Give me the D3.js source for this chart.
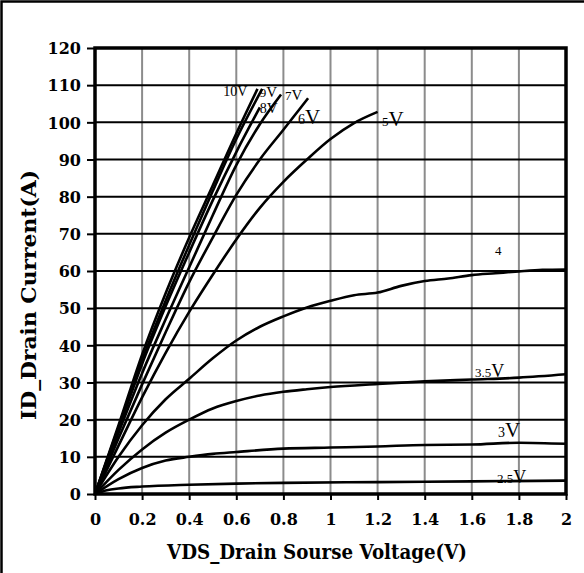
<!DOCTYPE html>
<html>
<head>
<meta charset="utf-8">
<script src="https://cdn.jsdelivr.net/npm/d3@7"></script>
<style>
  body { margin: 0; background: #fff; }
  svg { display: block; }
</style>
</head>
<body>
<svg width="584" height="573"></svg>
<script>
// tick values
var xTicks = [0, 0.2, 0.4, 0.6, 0.8, 1, 1.2, 1.4, 1.6, 1.8, 2];
var yTicks = [0, 10, 20, 30, 40, 50, 60, 70, 80, 90, 100, 110, 120];

// ID vs VDS, one array per gate voltage  [VDS (V), ID (A)]
var vgs10 = [[0,0],[0.1,18.5],[0.2,37.5],[0.3,54],[0.4,69],[0.5,83],[0.6,97],[0.69,109]];
var vgs9 = [[0,0],[0.1,18],[0.2,36],[0.3,52],[0.4,67],[0.5,81.5],[0.6,95.5],[0.71,109]];
var vgs8 = [[0,0],[0.1,17.5],[0.2,35],[0.3,50.5],[0.4,65],[0.5,79],[0.6,92],[0.70,104]];
var vgs7 = [[0,0],[0.1,16.5],[0.2,32.5],[0.3,47],[0.4,61],[0.5,75],[0.6,88.5],[0.7,99.5],[0.79,107.5]];
var vgs6 = [[0,0],[0.1,15],[0.2,29.5],[0.3,43.5],[0.4,57],[0.5,69],[0.6,80.5],[0.7,90],[0.8,98],[0.905,106.5]];
var vgs5 = [[0,0],[0.1,13],[0.2,26],[0.3,38],[0.4,49],[0.5,59],[0.6,68.5],[0.7,77],[0.8,84],[0.9,90],[1.0,95.5],[1.1,99.8],[1.2,102.8]];
var vgs4 = [[0,0],[0.1,10],[0.2,18.5],[0.3,25.5],[0.4,31],[0.5,36.5],[0.6,41.3],[0.7,45],[0.8,47.8],[0.9,50.2],[1.0,52],[1.1,53.5],[1.2,54.2],[1.3,56],[1.4,57.3],[1.5,58],[1.6,58.9],[1.7,59.4],[1.8,59.9],[1.9,60.3],[2.0,60.4]];
var vgs35 = [[0,0],[0.1,6.5],[0.2,12],[0.3,16.5],[0.4,20],[0.5,23],[0.6,25],[0.7,26.5],[0.8,27.5],[0.9,28.2],[1.0,28.8],[1.2,29.6],[1.4,30.3],[1.6,30.8],[1.8,31.3],[2.0,32.2]];
var vgs3 = [[0,0],[0.1,4],[0.2,7],[0.3,9],[0.4,10],[0.5,10.8],[0.6,11.3],[0.8,12.2],[1.0,12.5],[1.2,12.8],[1.4,13.2],[1.6,13.3],[1.8,13.8],[2.0,13.5]];
var vgs25 = [[0,0],[0.05,1],[0.1,1.5],[0.2,2],[0.4,2.5],[0.6,2.8],[0.8,3],[1.2,3.2],[1.6,3.4],[2.0,3.6]];

var curves = [vgs10, vgs9, vgs8, vgs7, vgs6, vgs5, vgs4, vgs35, vgs3, vgs25];

// curve labels: [number part, unit part]
var labelText = [["10", "V"], ["9", "V"], ["8", "V"], ["7", "V"], ["6", "V"], ["5", "V"], ["4", ""], ["3.5", "V"], ["3", "V"], ["2.5", "V"]];

var svg = d3.select("svg"),
  margin = {top: 48, left: 95},
  width = 471,
  height = 446,
  g = svg.append("g").attr("transform", "translate(" + margin.left + "," + margin.top + ")");

var x = d3.scaleLinear().domain([0, 2]).range([0, width]),
  y = d3.scaleLinear().domain([0, 120]).range([height, 0]);

// outer frame
svg.append("rect")
  .attr("x", 1.5).attr("y", 1.5)
  .attr("width", 600).attr("height", 600)
  .attr("fill", "none").attr("stroke", "#000").attr("stroke-width", 2.5);

// vertical grid (gray)
g.append("g")
  .selectAll("line")
  .data(xTicks.slice(1, -1))
  .enter().append("line")
    .attr("x1", d => x(d)).attr("x2", d => x(d))
    .attr("y1", 0).attr("y2", height)
    .attr("stroke", "#8c8c8c").attr("stroke-width", 2);

// horizontal grid (black)
g.append("g")
  .selectAll("line")
  .data(yTicks.slice(1, -1))
  .enter().append("line")
    .attr("x1", 0).attr("x2", width)
    .attr("y1", d => y(d)).attr("y2", d => y(d))
    .attr("stroke", "#000").attr("stroke-width", 2);

// axes
var yAxis = g.append("g")
  .call(d3.axisLeft(y).tickValues(yTicks).tickSize(8).tickPadding(6).tickFormat(d3.format("d")));
var xAxis = g.append("g")
  .attr("transform", "translate(0," + height + ")")
  .call(d3.axisBottom(x).tickValues(xTicks).tickSize(6).tickPadding(13).tickFormat(d => d));

[yAxis, xAxis].forEach(a => {
  a.select(".domain").remove();
  a.selectAll(".tick line").attr("stroke", "#000").attr("stroke-width", 2);
  a.selectAll(".tick text")
    .attr("fill", "#000")
    .style("font-family", "'DejaVu Serif', serif")
    .style("font-weight", "bold")
    .style("font-size", "16px");
});
yAxis.selectAll(".tick text").attr("dy", "0.36em");
xAxis.selectAll(".tick text").attr("dy", "0.75em");

// curves
var line = d3.line()
  .x(d => x(d[0]))
  .y(d => y(d[1]))
  .curve(d3.curveMonotoneX);

g.append("g")
  .selectAll("path")
  .data(curves)
  .enter().append("path")
    .attr("d", line)
    .attr("fill", "none")
    .attr("stroke", "#000")
    .attr("stroke-width", 2.6)
    .attr("stroke-linejoin", "round");

// plot border
g.append("rect")
  .attr("width", width).attr("height", height)
  .attr("fill", "none").attr("stroke", "#000").attr("stroke-width", 3.5);

// curve labels, placed in data units (baseline, left edge)
var labelAt = [[0.545, 107.1], [0.70, 106.9], [0.70, 102.6], [0.807, 106.1], [0.862, 99.6], [1.219, 99.1], [1.699, 64.3], [1.614, 31.5], [1.711, 15.3], [1.707, 3]];
var numSize = [14, 13, 14, 13, 14, 13, 13, 13, 14, 13],
  unitSize = [14, 15, 15, 15, 21, 21, 13, 18, 21, 18];

var lab = g.append("g")
  .selectAll("text")
  .data(labelText)
  .enter().append("text")
    .attr("x", (d, i) => x(labelAt[i][0]))
    .attr("y", (d, i) => y(labelAt[i][1]))
    .style("font-family", "'Liberation Serif', 'Times New Roman', serif")
    .attr("fill", "#000");
lab.append("tspan").text(d => d[0]).style("font-size", (d, i) => numSize[i] + "px");
lab.append("tspan").text(d => d[1]).style("font-size", (d, i) => unitSize[i] + "px");

// axis titles
svg.append("text")
  .attr("x", 317).attr("y", 559)
  .attr("text-anchor", "middle")
  .attr("textLength", 300).attr("lengthAdjust", "spacingAndGlyphs")
  .style("font-family", "'DejaVu Serif', serif")
  .style("font-weight", "bold")
  .style("font-size", "20px")
  .text("VDS_Drain Sourse Voltage(V)");

svg.append("text")
  .attr("transform", "translate(36,295) rotate(-90)")
  .attr("text-anchor", "middle")
  .attr("textLength", 250).attr("lengthAdjust", "spacingAndGlyphs")
  .style("font-family", "'DejaVu Serif', serif")
  .style("font-weight", "bold")
  .style("font-size", "20px")
  .text("ID_Drain Current(A)");
</script>
</body>
</html>
